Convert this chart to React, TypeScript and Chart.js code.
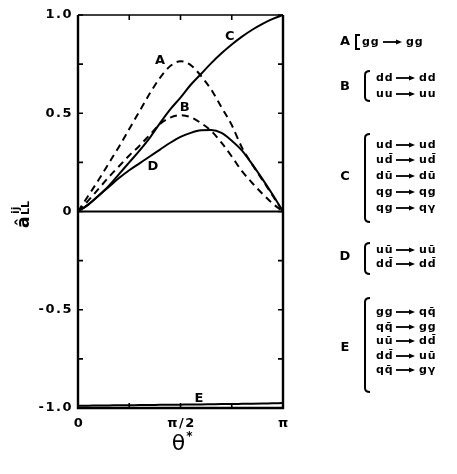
import React, { useEffect, useRef } from 'react';
import { Chart, registerables } from 'chart.js';

Chart.register(...registerables);

// θ* in units of π
const thetaOverPi = [0, 0.05, 0.1, 0.15, 0.2, 0.25, 0.3, 0.35, 0.4, 0.45, 0.5, 0.55, 0.6, 0.65, 0.7, 0.75, 0.8, 0.85, 0.9, 0.95, 1];

const curveA = [0, 0.08, 0.16, 0.245, 0.33, 0.42, 0.51, 0.6, 0.68, 0.74, 0.765, 0.745, 0.69, 0.62, 0.53, 0.44, 0.325, 0.24, 0.16, 0.08, 0];
const curveB = [0, 0.055, 0.115, 0.175, 0.23, 0.285, 0.335, 0.39, 0.445, 0.478, 0.49, 0.48, 0.45, 0.41, 0.35, 0.28, 0.205, 0.145, 0.09, 0.04, 0];
const curveC = [0, 0.035, 0.08, 0.13, 0.19, 0.25, 0.31, 0.375, 0.45, 0.52, 0.58, 0.645, 0.7, 0.755, 0.805, 0.85, 0.89, 0.925, 0.955, 0.98, 1];
const curveD = [0, 0.035, 0.08, 0.125, 0.17, 0.21, 0.245, 0.28, 0.315, 0.35, 0.38, 0.4, 0.413, 0.415, 0.4, 0.36, 0.31, 0.24, 0.165, 0.085, 0];
const curveE = [-0.988, -0.988, -0.987, -0.987, -0.986, -0.986, -0.985, -0.985, -0.984, -0.984, -0.983, -0.982, -0.982, -0.981, -0.98, -0.98, -0.979, -0.978, -0.977, -0.976, -0.975];

const curveNames = ['A', 'B', 'C', 'D', 'E'];
const curveDashed = [true, true, false, false, false];
const labelTheta = [0.4, 0.52, 0.74, 0.365, 0.59];
const labelValue = [0.77, 0.53, 0.89, 0.23, -0.95];

const yTickText: Record<string, string> = { '1': '1.0', '0.5': '0.5', '0': '0', '-0.5': '-0.5', '-1': '-1.0' };
const xTickText: Record<string, string> = { '0': '0', '0.5': 'π/2', '1': 'π' };

const M = '\u0304';
const processA = [['gg', 'gg']];
const processB = [['dd', 'dd'], ['uu', 'uu']];
const processC = [['ud', 'ud'], ['ud' + M, 'ud' + M], ['dū', 'dū'], ['qg', 'qg'], ['qg', 'qγ']];
const processD = [['uū', 'uū'], ['dd' + M, 'dd' + M]];
const processE = [['gg', 'qq' + M], ['qq' + M, 'gg'], ['uū', 'dd' + M], ['dd' + M, 'uū'], ['qq' + M, 'gγ']];
const processes = [processA, processB, processC, processD, processE];

// legend layout (screen px)
const legendRowY = [[42], [78, 94], [145, 160, 176, 192, 208], [250, 264], [312, 327, 341, 356, 370]];
const legendLetterY = [42, 87, 177, 257, 348];
const legendBracket = [[35, 49], [71, 101], [134, 222], [243, 274], [298, 392]];

const FONT = '"DejaVu Sans", "Liberation Sans", sans-serif';

const overlay = {
  id: 'overlay',
  beforeDatasetsDraw(chart: any) {
    const { ctx, chartArea, scales } = chart;
    const y0 = scales.y.getPixelForValue(0);
    ctx.save();
    ctx.strokeStyle = '#000';
    ctx.lineWidth = 2.2;
    ctx.beginPath();
    ctx.moveTo(chartArea.left, y0);
    ctx.lineTo(chartArea.right, y0);
    ctx.stroke();
    ctx.restore();
  },
  afterDatasetsDraw(chart: any) {
    const { ctx, chartArea, scales } = chart;
    const { left, right, top, bottom } = chartArea;
    const xs = scales.x;
    const ys = scales.y;
    ctx.save();
    ctx.strokeStyle = '#000';
    ctx.fillStyle = '#000';
    // frame
    ctx.lineWidth = 2.4;
    ctx.beginPath();
    ctx.moveTo(left, top);
    ctx.lineTo(left, bottom);
    ctx.lineTo(right, bottom);
    ctx.lineTo(right, top);
    ctx.stroke();
    ctx.lineWidth = 1.6;
    ctx.beginPath();
    ctx.moveTo(left, top);
    ctx.lineTo(right, top);
    ctx.stroke();
    // ticks
    ctx.lineWidth = 1.6;
    ys.ticks.forEach((t: any) => {
      const p = ys.getPixelForValue(t.value);
      ctx.beginPath();
      ctx.moveTo(left, p);
      ctx.lineTo(left + 5, p);
      ctx.moveTo(right, p);
      ctx.lineTo(right - 5, p);
      ctx.stroke();
    });
    xs.ticks.forEach((t: any) => {
      const p = xs.getPixelForValue(t.value);
      ctx.beginPath();
      ctx.moveTo(p, bottom);
      ctx.lineTo(p, bottom - 5);
      ctx.moveTo(p, top);
      ctx.lineTo(p, top + 5);
      ctx.stroke();
    });
    // tick labels
    ctx.font = `bold 13px ${FONT}`;
    (ctx as any).letterSpacing = '1.5px';
    ctx.textAlign = 'right';
    ctx.textBaseline = 'middle';
    ys.ticks.forEach((t: any) => {
      const s = yTickText[String(t.value)];
      if (s) ctx.fillText(s, left - 5, ys.getPixelForValue(t.value));
    });
    ctx.textAlign = 'center';
    xs.ticks.forEach((t: any) => {
      const s = xTickText[String(t.value)];
      if (s) ctx.fillText(s, xs.getPixelForValue(t.value) + 1, bottom + 16);
    });
    (ctx as any).letterSpacing = '0px';
    // curve labels
    ctx.font = `bold 13px ${FONT}`;
    ctx.textAlign = 'center';
    curveNames.forEach((n, i) => {
      ctx.fillText(n, xs.getPixelForValue(labelTheta[i]), ys.getPixelForValue(labelValue[i]));
    });
    // x title
    ctx.font = `22px ${FONT}`;
    ctx.fillText('θ', xs.getPixelForValue(0.5) - 2, 444);
    ctx.font = `bold 12px ${FONT}`;
    ctx.fillText('*', xs.getPixelForValue(0.5) + 9, 437);
    // y title (rotated)
    ctx.save();
    ctx.translate(29, 228);
    ctx.rotate(-Math.PI / 2);
    ctx.textAlign = 'left';
    ctx.textBaseline = 'alphabetic';
    ctx.font = `bold 17px ${FONT}`;
    ctx.fillText('â', 0, 0);
    ctx.font = `bold 11px ${FONT}`;
    ctx.fillText('LL', 13, 0);
    ctx.fillText('ij', 14, -10);
    ctx.restore();
    // legend
    processes.forEach((rows, g) => {
      const isA = g === 0;
      const letterX = 345;
      const bx = isA ? 356 : 365;
      const xL = isA ? 362 : 376;
      const a1 = isA ? 383 : 396;
      const a2 = isA ? 402 : 415;
      const xR = isA ? 406 : 419;
      ctx.font = `bold 13px ${FONT}`;
      ctx.textAlign = 'center';
      ctx.textBaseline = 'middle';
      ctx.fillText(curveNames[g], letterX, legendLetterY[g]);
      const [b1, b2] = legendBracket[g];
      ctx.lineWidth = 2;
      ctx.beginPath();
      if (isA) {
        ctx.moveTo(bx + 4, b1);
        ctx.lineTo(bx, b1);
        ctx.lineTo(bx, b2);
        ctx.lineTo(bx + 4, b2);
      } else {
        ctx.moveTo(bx + 5, b1);
        ctx.quadraticCurveTo(bx, b1, bx, b1 + 4);
        ctx.lineTo(bx, b2 - 4);
        ctx.quadraticCurveTo(bx, b2, bx + 5, b2);
      }
      ctx.stroke();
      ctx.font = `bold 11px ${FONT}`;
      (ctx as any).letterSpacing = '1px';
      ctx.textAlign = 'left';
      rows.forEach((r, k) => {
        const yy = legendRowY[g][k];
        ctx.fillText(r[0], xL, yy);
        ctx.lineWidth = 1.8;
        ctx.beginPath();
        ctx.moveTo(a1, yy);
        ctx.lineTo(a2 - 4, yy);
        ctx.stroke();
        ctx.beginPath();
        ctx.moveTo(a2, yy);
        ctx.lineTo(a2 - 6, yy - 2.5);
        ctx.lineTo(a2 - 6, yy + 2.5);
        ctx.closePath();
        ctx.fill();
        ctx.fillText(r[1], xR, yy);
      });
      (ctx as any).letterSpacing = '0px';
    });
    ctx.restore();
  },
};

export default function App() {
  const ref = useRef<HTMLCanvasElement | null>(null);
  useEffect(() => {
    if (!ref.current) return;
    const series = [curveA, curveB, curveC, curveD, curveE];
    const chart = new Chart(ref.current, {
      type: 'line',
      data: {
        datasets: series.map((s, i) => ({
          label: curveNames[i],
          data: thetaOverPi.map((t, k) => ({ x: t, y: s[k] })),
          borderColor: '#000',
          borderWidth: 2,
          borderDash: curveDashed[i] ? [7, 5] : [],
          pointRadius: 0,
          fill: false,
          cubicInterpolationMode: 'monotone' as const,
        })),
      },
      options: {
        animation: false,
        responsive: false,
        devicePixelRatio: 1,
        layout: { padding: { left: 0, top: 15, right: 174, bottom: 0 } },
        plugins: { legend: { display: false }, tooltip: { enabled: false } },
        scales: {
          x: {
            type: 'linear',
            min: 0,
            max: 1,
            ticks: { stepSize: 0.25, display: false },
            grid: { display: false },
            border: { display: false },
            afterFit: (s: any) => { s.height = 66; },
          },
          y: {
            type: 'linear',
            min: -1,
            max: 1,
            ticks: { stepSize: 0.25, display: false },
            grid: { display: false },
            border: { display: false },
            afterFit: (s: any) => { s.width = 78; },
          },
        },
      },
      plugins: [overlay],
    });
    return () => chart.destroy();
  }, []);
  return (
    <div style={{ position: 'absolute', left: 0, top: 0, width: 457, height: 474, background: '#fff' }}>
      <canvas ref={ref} width={457} height={474} style={{ width: 457, height: 474, display: 'block' }} />
    </div>
  );
}
